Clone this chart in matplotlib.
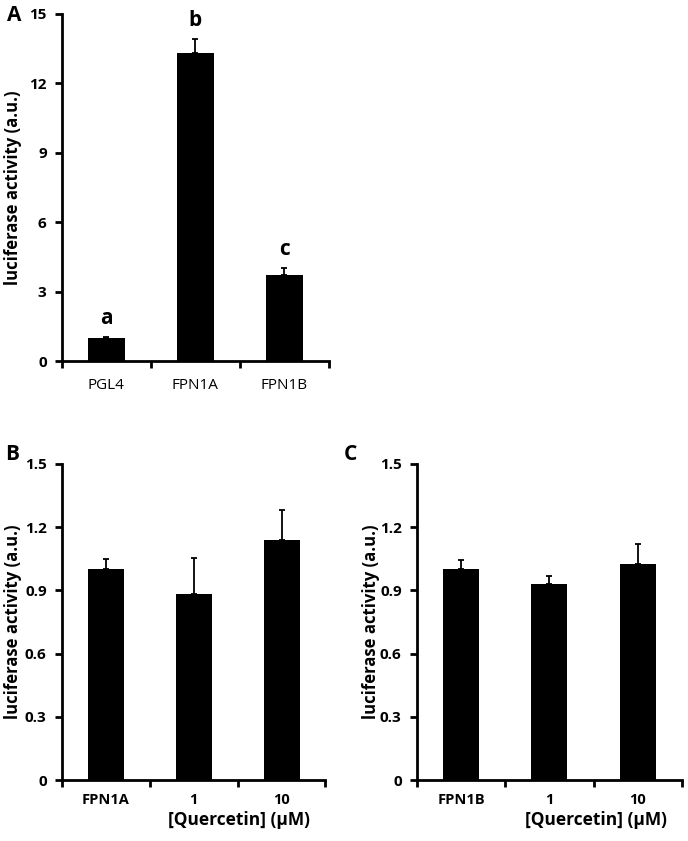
import matplotlib.pyplot as plt
import numpy as np

plt.rcParams['font.family'] = ['Open Sans', 'DejaVu Sans']

# panel A
a_labels = ['PGL4', 'FPN1A', 'FPN1B']
a_vals = [1.0, 13.33, 3.72]
a_err = [0.05, 0.58, 0.28]
a_letters = ['a', 'b', 'c']

# panel B
b_labels = ['FPN1A', '1', '10']
b_vals = [1.0, 0.885, 1.14]
b_err = [0.05, 0.17, 0.14]

# panel C
c_labels = ['FPN1B', '1', '10']
c_vals = [1.0, 0.93, 1.027]
c_err = [0.045, 0.04, 0.093]


def draw(ax, labels, vals, err, ymax, yticks, ytick_fmt, bold_x, label_x):
	x = np.arange(len(vals))
	ax.bar(x, vals, width=0.41, color='black')
	ax.errorbar(x, vals, yerr=[np.zeros(len(err)), err], fmt='none',
		ecolor='black', elinewidth=1.3, capsize=2.5, capthick=1.3)
	ax.set_xlim(-0.5, len(vals) - 0.5)
	ax.set_ylim(0, ymax)
	ax.set_yticks(yticks)
	ax.set_yticklabels([ytick_fmt(t) for t in yticks], fontweight='bold', fontsize=11)
	ax.set_xticks(x)
	if bold_x:
		ax.set_xticklabels(labels, fontsize=10.5, fontweight='bold')
		ax.tick_params(axis='x', length=0, pad=9)
	else:
		ax.set_xticklabels(labels, fontsize=11)
		ax.tick_params(axis='x', length=0, pad=12)
	ax.set_xticks(np.arange(len(vals) + 1) - 0.5, minor=True)
	ax.tick_params(axis='x', which='minor', length=5, width=2, direction='out')
	ax.tick_params(axis='y', length=5, width=2, direction='out', pad=6)
	for s in ['top', 'right']:
		ax.spines[s].set_visible(False)
	for s in ['left', 'bottom']:
		ax.spines[s].set_linewidth(2)
	ax.set_ylabel('luciferase activity (a.u.)', fontsize=12, fontweight='bold')
	ax.yaxis.set_label_coords(label_x, 0.5)
	return x


fig = plt.figure(figsize=(6.88, 8.41), dpi=100)

axA = fig.add_axes([0.090, 0.5707, 0.388, 0.4127])
x = draw(axA, a_labels, a_vals, a_err, 15, [0, 3, 6, 9, 12, 15], lambda t: '%d' % t,
	False, -0.150)
for xi, v, e, l in zip(x, a_vals, a_err, a_letters):
	axA.text(xi, v + e + 0.35, l, ha='center', va='bottom', fontsize=15, fontweight='bold')
fig.text(0.010, 0.982, 'A', fontsize=15, fontweight='bold', va='center')

fmt = lambda t: '0' if t == 0 else '%.1f' % t
axB = fig.add_axes([0.090, 0.0725, 0.383, 0.3758])
draw(axB, b_labels, b_vals, b_err, 1.5, [0, 0.3, 0.6, 0.9, 1.2, 1.5], fmt, True, -0.152)
axB.text(0.943, -0.127, '[Quercetin] (\u00b5M)', transform=axB.transAxes, ha='right',
	va='center', fontsize=12.5, fontweight='bold')
fig.text(0.008, 0.459, 'B', fontsize=15, fontweight='bold', va='center')

axC = fig.add_axes([0.606, 0.0725, 0.385, 0.3758])
draw(axC, c_labels, c_vals, c_err, 1.5, [0, 0.3, 0.6, 0.9, 1.2, 1.5], fmt, True, -0.140)
axC.text(0.943, -0.127, '[Quercetin] (\u00b5M)', transform=axC.transAxes, ha='right',
	va='center', fontsize=12.5, fontweight='bold')
fig.text(0.500, 0.459, 'C', fontsize=15, fontweight='bold', va='center')

fig.savefig('out.png', dpi=100)
